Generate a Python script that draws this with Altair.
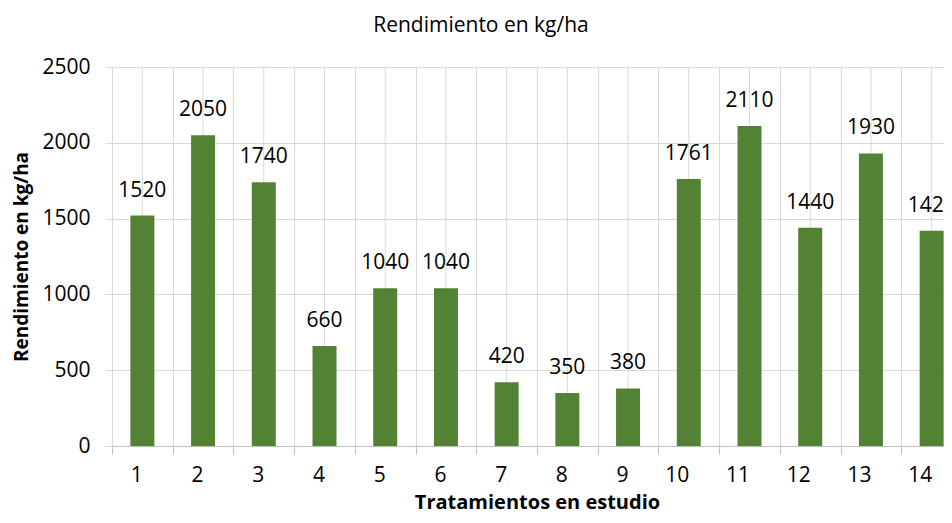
import altair as alt
import pandas as pd

tratamientos = [str(i) for i in range(1, 15)]
rendimiento = [1520, 2050, 1740, 660, 1040, 1040, 420, 350, 380, 1761, 2110, 1440, 1930, 1420]

df = pd.DataFrame({"trat": tratamientos, "rend": rendimiento})

FONT = "Open Sans"
GRID = "#d9d9d9"
GREEN = "#548235"

x_enc = alt.X(
    "trat:N",
    sort=tratamientos,
    scale=alt.Scale(paddingInner=0, paddingOuter=0),
    axis=alt.Axis(
        title="Tratamientos en estudio",
        labelAngle=0,
        tickBand="extent",
        grid=True,
        gridColor=GRID,
        tickColor="#bfbfbf",
        tickSize=8,
        domainColor="#bfbfbf",
        labelPadding=21,
        labelFontSize=21,
        labelFont=FONT,
        labelColor="#000000",
        titleFont=FONT,
        titleFontSize=20,
        titleFontWeight="bold",
        titleColor="#000000",
        titlePadding=7,
    ),
)

y_enc = alt.Y(
    "rend:Q",
    scale=alt.Scale(domain=[0, 2500], nice=False),
    axis=alt.Axis(
        title="Rendimiento en kg/ha",
        values=[0, 500, 1000, 1500, 2000, 2500],
        format="d",
        grid=True,
        gridColor=GRID,
        domain=False,
        tickColor=GRID,
        tickSize=7,
        labelPadding=15,
        labelFontSize=21,
        labelFont=FONT,
        labelColor="#000000",
        titleFont=FONT,
        titleFontSize=19,
        titleFontWeight="bold",
        titleColor="#000000",
        titlePadding=10,
    ),
)

base = alt.Chart(df)

center_rules = base.mark_rule(color=GRID, strokeWidth=1).encode(
    x=alt.X("trat:N", sort=tratamientos)
)

bars = base.mark_bar(color=GREEN, size=24).encode(x=x_enc, y=y_enc)

labels = base.mark_text(
    baseline="bottom", dy=-15, fontSize=21, font=FONT, color="#000000"
).encode(x=alt.X("trat:N", sort=tratamientos), y="rend:Q", text="rend:Q")

chart = (
    alt.layer(center_rules, bars, labels)
    .properties(
        width=850,
        height=379,
        title=alt.TitleParams(
            "Rendimiento en kg/ha",
            anchor="start",
            align="center",
            dx=468,
            fontSize=21,
            font=FONT,
            fontWeight="normal",
            color="#000000",
            offset=20,
        ),
        autosize=alt.AutoSizeParams(type="none"),
        padding={"left": 104, "top": 59, "right": -18, "bottom": 69},
    )
    .configure_view(stroke=None)
)

chart.save("out.html", embed_options={"renderer": "svg", "actions": False})
